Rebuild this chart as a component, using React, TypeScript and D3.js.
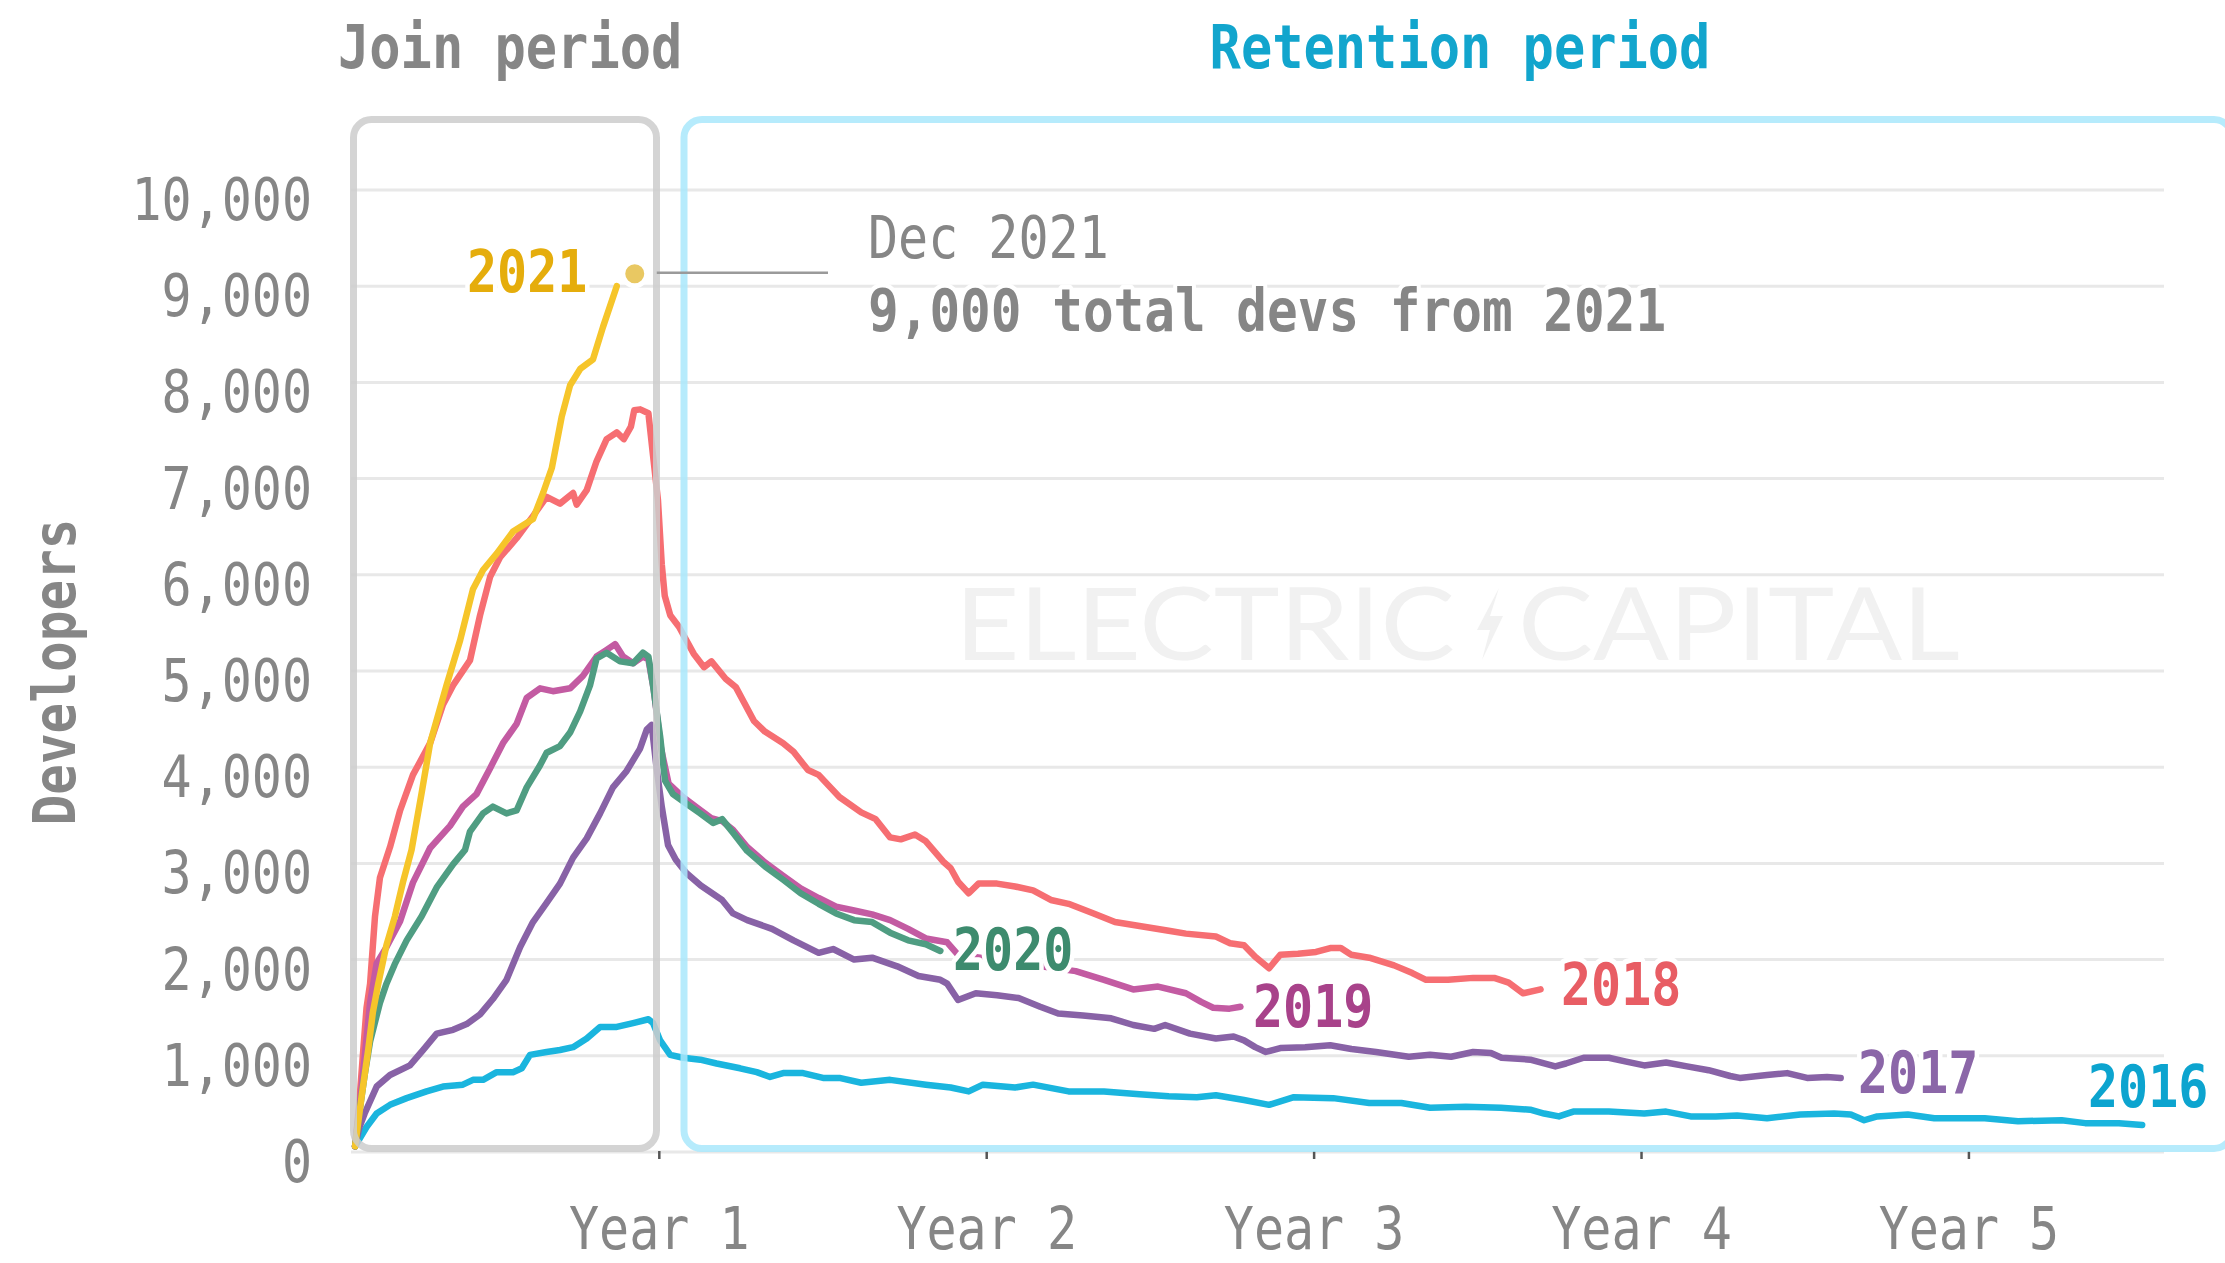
import React from "react";
import * as d3 from "d3";

const W = 2225;
const H = 1263;

// ---------- data (x = months since cohort start, y = developers) ----------
const yTicks = [0, 1000, 2000, 3000, 4000, 5000, 6000, 7000, 8000, 9000, 10000];
const xTickMonths = [12, 24, 36, 48, 60];
const xTickLabels = ["Year 1", "Year 2", "Year 3", "Year 4", "Year 5"];

const s2021: [number, number][] = [
  [0.85, 60], [1.1, 600], [1.33, 1060], [1.5, 1450], [1.7, 1750], [2.0, 2150], [2.31, 2450],
  [2.6, 2800], [2.92, 3140], [3.3, 3750], [3.6, 4250], [4.2, 4850], [4.7, 5320], [5.17, 5850],
  [5.54, 6050], [6.04, 6220], [6.64, 6450], [7.37, 6580], [7.74, 6850], [8.06, 7110],
  [8.42, 7640], [8.73, 7970], [9.1, 8140], [9.57, 8240], [9.94, 8580], [10.44, 9000],
];

const s2020: [number, number][] = [
  [0.85, 60], [1.0, 400], [1.2, 800], [1.4, 1150], [1.76, 1550], [2.0, 1750], [2.3, 1950],
  [2.74, 2200], [3.29, 2450], [3.84, 2750], [4.44, 2990], [4.88, 3140], [5.06, 3330],
  [5.54, 3520], [5.9, 3590], [6.4, 3520], [6.77, 3550], [7.14, 3790], [7.63, 4020],
  [7.87, 4150], [8.36, 4220], [8.73, 4360], [9.1, 4580], [9.46, 4850], [9.7, 5130],
  [10.07, 5190], [10.56, 5100], [11.04, 5080], [11.4, 5190], [11.6, 5150], [11.77, 4850],
  [12.03, 4320], [12.21, 3860], [12.5, 3720], [13.0, 3620], [13.5, 3520], [13.97, 3420],
  [14.3, 3460], [14.7, 3320], [15.22, 3130], [15.87, 2970], [16.54, 2830], [17.18, 2690],
  [17.84, 2580], [18.48, 2480], [19.14, 2410], [19.8, 2390], [20.46, 2280], [21.12, 2200],
  [21.77, 2160], [22.3, 2090],
];

const s2019: [number, number][] = [
  [0.85, 60], [1.1, 700], [1.4, 1550], [1.64, 1960], [2.0, 2130], [2.5, 2400], [2.97, 2800],
  [3.6, 3160], [4.33, 3390], [4.8, 3590], [5.3, 3720], [5.8, 3990], [6.27, 4250], [6.77, 4450],
  [7.14, 4720], [7.63, 4820], [8.1, 4790], [8.73, 4820], [9.2, 4950], [9.7, 5150],
  [10.07, 5220], [10.38, 5280], [10.67, 5150], [11.04, 5080], [11.4, 5150], [11.6, 5120],
  [11.8, 4800], [12.06, 4200], [12.34, 3830], [12.87, 3690], [13.38, 3580], [13.9, 3470],
  [14.3, 3440], [14.7, 3350], [15.22, 3170], [15.87, 3010], [16.54, 2870], [17.18, 2740],
  [17.84, 2640], [18.48, 2550], [19.14, 2510], [19.8, 2470], [20.46, 2410], [21.12, 2320],
  [21.77, 2220], [22.55, 2180], [22.95, 2050], [24.5, 1990], [26.0, 1930], [27.26, 1880],
  [28.3, 1790], [29.37, 1690], [30.28, 1720], [31.3, 1650], [31.86, 1560], [32.3, 1500],
  [32.9, 1490], [33.3, 1510],
];

const s2018: [number, number][] = [
  [0.85, 60], [1.0, 500], [1.15, 1060], [1.27, 1500], [1.4, 1750], [1.58, 2450], [1.76, 2850],
  [2.13, 3170], [2.5, 3550], [2.97, 3920], [3.6, 4250], [4.07, 4650], [4.44, 4850],
  [5.06, 5110], [5.43, 5580], [5.8, 5980], [6.16, 6180], [6.77, 6380], [7.37, 6610],
  [7.87, 6810], [8.36, 6740], [8.84, 6850], [8.97, 6730], [9.34, 6880], [9.7, 7180],
  [10.07, 7410], [10.44, 7480], [10.7, 7410], [10.96, 7540], [11.08, 7710], [11.3, 7720],
  [11.6, 7680], [11.77, 7240], [11.95, 6780], [12.09, 6110], [12.2, 5780], [12.4, 5580],
  [12.72, 5460], [13.26, 5180], [13.64, 5040], [13.91, 5100], [14.43, 4920], [14.81, 4830],
  [15.47, 4480], [15.87, 4370], [16.54, 4250], [16.92, 4160], [17.45, 3970], [17.84, 3920],
  [18.6, 3690], [19.4, 3530], [19.93, 3460], [20.46, 3270], [20.85, 3250], [21.37, 3300],
  [21.77, 3230], [22.4, 3020], [22.68, 2950], [22.95, 2810], [23.34, 2690], [23.7, 2790],
  [24.38, 2790], [25.04, 2760], [25.7, 2720], [26.35, 2620], [27.0, 2580], [27.92, 2480],
  [28.7, 2390], [29.6, 2350], [30.67, 2300], [31.3, 2270], [32.4, 2240], [32.92, 2170],
  [33.43, 2150], [33.84, 2030], [34.35, 1910], [34.76, 2050], [35.41, 2060], [36.07, 2080],
  [36.59, 2120], [36.98, 2120], [37.36, 2050], [38.02, 2020], [38.93, 1940], [39.6, 1860],
  [40.1, 1790], [40.91, 1790], [41.83, 1810], [42.6, 1810], [43.13, 1760], [43.66, 1650],
  [44.3, 1690],
];

const s2017: [number, number][] = [
  [0.85, 60], [1.0, 250], [1.2, 400], [1.64, 680], [2.13, 800], [2.86, 900], [3.34, 1060],
  [3.84, 1230], [4.44, 1270], [4.94, 1330], [5.43, 1430], [5.9, 1590], [6.4, 1790],
  [6.9, 2130], [7.37, 2390], [7.87, 2590], [8.36, 2790], [8.84, 3060], [9.34, 3260],
  [9.83, 3520], [10.3, 3790], [10.8, 3960], [11.29, 4190], [11.54, 4390], [11.72, 4440],
  [11.9, 3990], [12.09, 3590], [12.32, 3190], [12.6, 3040], [12.99, 2900], [13.52, 2770],
  [14.3, 2620], [14.7, 2480], [15.22, 2410], [16.13, 2320], [16.92, 2200], [17.84, 2070],
  [18.37, 2110], [19.14, 2000], [19.8, 2020], [20.72, 1930], [21.5, 1830], [22.3, 1790],
  [22.55, 1750], [22.95, 1580], [23.6, 1650], [24.38, 1630], [25.17, 1600], [25.96, 1510],
  [26.62, 1440], [27.53, 1420], [28.56, 1390], [29.37, 1320], [30.14, 1280], [30.54, 1320],
  [31.45, 1230], [32.4, 1180], [33.05, 1200], [33.43, 1160], [33.84, 1090], [34.23, 1040],
  [34.76, 1080], [35.67, 1090], [36.59, 1110], [37.37, 1070], [38.27, 1040], [39.47, 990],
  [40.25, 1010], [41.02, 990], [41.83, 1040], [42.48, 1030], [42.87, 980], [43.92, 960],
  [44.84, 890], [45.23, 920], [45.88, 980], [46.8, 980], [47.44, 940], [48.1, 900],
  [48.9, 930], [49.67, 890], [50.46, 850], [51.25, 790], [51.6, 770], [52.6, 800],
  [53.34, 820], [54.07, 770], [54.8, 780], [55.3, 770],
];

const s2016: [number, number][] = [
  [0.85, 60], [1.27, 260], [1.64, 400], [2.13, 490], [2.74, 560], [3.47, 630], [4.07, 680],
  [4.8, 700], [5.17, 750], [5.54, 750], [6.04, 830], [6.64, 830], [6.96, 870], [7.26, 1010],
  [7.87, 1040], [8.36, 1060], [8.84, 1090], [9.34, 1180], [9.83, 1300], [10.44, 1300],
  [11.04, 1340], [11.6, 1380], [11.77, 1340], [12.03, 1160], [12.4, 1010], [12.87, 980],
  [13.5, 960], [14.1, 920], [14.96, 870], [15.57, 830], [16.06, 780], [16.54, 820],
  [17.27, 820], [18.0, 770], [18.6, 770], [19.4, 720], [20.46, 750], [21.77, 700],
  [22.68, 670], [23.34, 630], [23.86, 700], [25.04, 670], [25.7, 700], [27.0, 630],
  [28.3, 630], [29.6, 600], [30.67, 580], [31.7, 570], [32.4, 590], [33.43, 540],
  [34.35, 490], [35.26, 570], [36.7, 560], [38.02, 510], [39.2, 510], [40.25, 460],
  [41.56, 470], [42.85, 460], [43.92, 440], [44.43, 400], [44.97, 370], [45.5, 420],
  [46.8, 420], [48.1, 400], [48.9, 420], [49.8, 370], [50.72, 370], [51.5, 380],
  [52.6, 350], [53.82, 390], [55.06, 400], [55.67, 390], [56.16, 330], [56.64, 370],
  [57.76, 390], [58.73, 350], [59.97, 350], [60.58, 350], [61.8, 320], [63.4, 330],
  [64.26, 300], [65.5, 300], [66.35, 280],
];

const cohortNames = ["2016", "2017", "2018", "2019", "2020", "2021"];
const cohortData = [s2016, s2017, s2018, s2019, s2020, s2021];

// annotation point (Dec 2021)
const decPoint: [number, number] = [11.1, 9130];
const annoLine1 = "Dec 2021";
const annoLine2 = "9,000 total devs from 2021";

// ---------- styles ----------
const lineColors: Record<string, string> = {
  "2016": "#1ab5de",
  "2017": "#8862a6",
  "2018": "#f66e72",
  "2019": "#c35ba2",
  "2020": "#4f9d82",
  "2021": "#f6c52a",
};
const labelColors: Record<string, string> = {
  "2016": "#0ca4cf",
  "2017": "#8b66a8",
  "2018": "#e85d64",
  "2019": "#a8428a",
  "2020": "#3d8b6e",
  "2021": "#e5ad0c",
};
const labelPos: Record<string, [number, number]> = {
  "2021": [467, 292],
  "2020": [953, 970],
  "2019": [1253, 1027],
  "2018": [1561, 1005],
  "2017": [1858, 1093],
  "2016": [2088, 1107],
};

const MONO = "'DejaVu Sans Mono', 'Liberation Mono', monospace";
const GRAY = "#868686";

function MText(props: {
  x: number;
  y: number;
  size?: number;
  weight?: number | string;
  fill?: string;
  anchor?: string;
  rotate?: number;
  halo?: number;
  ky?: number;
  children: React.ReactNode;
}) {
  const { x, y, size = 50, weight = 400, fill = GRAY, anchor = "start", rotate = 0, halo = 0, ky = 1.16 } = props;
  return (
    <text
      transform={`translate(${x},${y}) rotate(${rotate}) scale(1,${ky})`}
      fontFamily={MONO}
      fontSize={size}
      fontWeight={weight}
      fill={fill}
      textAnchor={anchor as any}
      stroke={halo ? "#ffffff" : "none"}
      strokeWidth={halo}
      strokeLinejoin="round"
      style={{ paintOrder: "stroke" }}
    >
      {props.children}
    </text>
  );
}

export default function App() {
  const x = d3.scaleLinear().domain([0.7, 67.15]).range([351, 2164]);
  const y = d3.scaleLinear().domain([0, 10000]).range([1152, 190]);
  const line = d3
    .line<[number, number]>()
    .x((d) => x(d[0]))
    .y((d) => y(d[1]))
    .curve(d3.curveLinear);

  const [x0, x1] = x.range();
  const dx = x(decPoint[0]);
  const dy = y(decPoint[1]);

  return (
    <svg
      width={W}
      height={H}
      viewBox={`0 0 ${W} ${H}`}
      style={{ position: "absolute", left: 0, top: 0, display: "block", background: "#fff" }}
    >
      <rect x={0} y={0} width={W} height={H} fill="#ffffff" />

      {/* gridlines */}
      {yTicks.map((t) => (
        <line key={t} x1={x0} x2={x1} y1={y(t)} y2={y(t)} stroke="#e8e8e8" strokeWidth={3} />
      ))}

      {/* watermark */}
      <g fill="#f1f1f1" fontFamily="Lato, 'Open Sans', sans-serif" fontSize={101} fontWeight={400}>
        <text x={955} y={660} textLength={500} lengthAdjust="spacingAndGlyphs">ELECTRIC</text>
        <text x={1518} y={660} textLength={442} lengthAdjust="spacingAndGlyphs">CAPITAL</text>
        <polygon points="1499,588 1477,630 1490,630 1482,660 1503,616 1490,616" />
      </g>

      {/* y tick labels */}
      {yTicks.map((t) => (
        <MText key={t} x={312} y={y(t) + 30} anchor="end" size={50}>
          {d3.format(",")(t)}
        </MText>
      ))}

      {/* x ticks */}
      {xTickMonths.map((m, i) => (
        <g key={m}>
          <line x1={x(m)} x2={x(m)} y1={1151} y2={1159} stroke="#555555" strokeWidth={2.5} />
          <MText x={x(m)} y={1249} anchor="middle" size={50}>
            {xTickLabels[i]}
          </MText>
        </g>
      ))}

      {/* y axis title */}
      <MText x={75} y={672} anchor="middle" size={51} weight={700} rotate={-90}>
        Developers
      </MText>

      {/* cohort lines */}
      {cohortNames.map((n, i) => (
        <path
          key={n}
          d={line(cohortData[i]) || ""}
          fill="none"
          stroke={lineColors[n]}
          strokeWidth={6.5}
          strokeLinejoin="round"
          strokeLinecap="round"
        />
      ))}

      {/* period boxes */}
      <rect x={353.5} y={119.5} width={303} height={1029} rx={18} fill="none" stroke="#cdcdcd" strokeOpacity={0.85} strokeWidth={7} />
      <rect x={684} y={119.5} width={1548} height={1029} rx={18} fill="none" stroke="#a9e7fb" strokeOpacity={0.85} strokeWidth={7} />

      {/* period titles */}
      <MText x={338} y={68} size={52} weight={700}>Join period</MText>
      <MText x={1460} y={68} size={52} weight={700} anchor="middle" fill="#12a5cd">Retention period</MText>

      {/* annotation */}
      <line x1={dx + 22} x2={828} y1={dy - 1} y2={dy - 1} stroke="#9a9a9a" strokeWidth={2.5} />
      <circle cx={dx} cy={dy} r={12} fill="#e9c862" stroke="#ffffff" strokeWidth={5} />
      <MText x={868} y={258} size={50} halo={8}>{annoLine1}</MText>
      <MText x={868} y={331} size={51} weight={700} halo={8}>{annoLine2}</MText>

      {/* cohort labels */}
      {cohortNames.map((n) => (
        <MText key={n} x={labelPos[n][0]} y={labelPos[n][1]} size={50} weight={700} fill={labelColors[n]} halo={9}>
          {n}
        </MText>
      ))}
    </svg>
  );
}
